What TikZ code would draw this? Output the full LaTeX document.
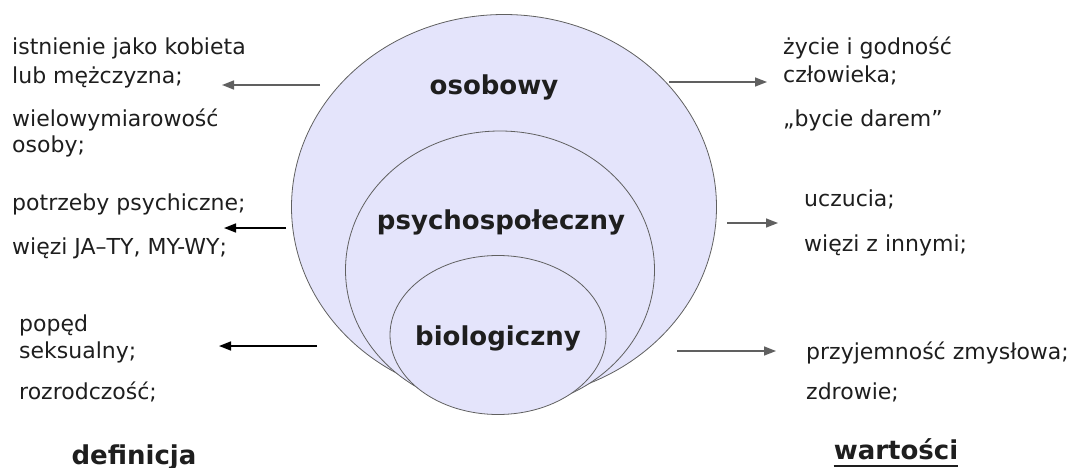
\documentclass[tikz,border=0pt]{standalone}
\usepackage{fontspec}
\setmainfont{DejaVu Sans}
\usetikzlibrary{arrows.meta,shapes.geometric}
\definecolor{fillc}{HTML}{E4E4FB}
\definecolor{linec}{HTML}{606060}
\definecolor{txt}{HTML}{1E1E1E}
\begin{document}
\begin{tikzpicture}[x=1pt,y=-1pt,
  small/.style={font=\fontsize{22}{26}\selectfont, text=txt, inner sep=0pt, anchor=base west},
  big/.style={font=\fontsize{26}{30}\selectfont\bfseries, text=txt, inner sep=0pt, anchor=base},
  layer/.style={ellipse, draw=linec, fill=fillc, line width=0.8pt, inner sep=0pt},
  garrow/.style={draw=linec, line width=1.6pt, -{Triangle[length=12pt,width=9pt]}},
  barrow/.style={draw=black, line width=1.6pt, -{Triangle[length=12pt,width=9pt]}}]
\useasboundingbox (0,0) rectangle (1070,468);
\clip (0,0) rectangle (1070,468);
% nested ellipses
\node[layer, minimum width=425pt, minimum height=385pt] (outer) at (504,207) {};
\node[layer, minimum width=309pt, minimum height=278pt] (middle) at (500,270) {};
\node[layer, minimum width=216pt, minimum height=159pt] (inner) at (498,335) {};
\node[big] (osob) at (494,95) {osobowy};
\node[big] (psych) at (501,229) {psychospołeczny};
\node[big] (bio) at (498,345) {biologiczny};
% left texts
\node[small] (l1) at (12,55) {istnienie jako kobieta};
\node[small] (l2) at (12,84) {lub mężczyzna;};
\node[small] (l3) at (12,126) {wielowymiarowość};
\node[small] (l4) at (12,152) {osoby;};
\node[small] (l5) at (12,210) {potrzeby psychiczne;};
\node[small] (l6) at (12,254) {więzi JA–TY, MY-WY;};
\node[small] (l7) at (19,331) {popęd};
\node[small] (l8) at (19,358) {seksualny;};
\node[small] (l9) at (19,399) {rozrodczość;};
\node[big] (def) at (134,464) {definicja};
% right texts
\node[small] (r1) at (783,55) {życie i godność};
\node[small] (r2) at (783,83) {człowieka;};
\node[small] (r3) at (783,127) {„bycie darem”};
\node[small] (r4) at (804,206) {uczucia;};
\node[small] (r5) at (804,251) {więzi z innymi;};
\node[small] (r6) at (806,359) {przyjemność zmysłowa;};
\node[small] (r7) at (806,399) {zdrowie;};
\node[big] (wart) at (896,459) {wartości};
\draw[txt, line width=2.4pt] ([yshift=-7pt]wart.base west) -- ([yshift=-7pt]wart.base east);
% arrow end points
\coordinate (a1s) at (320,85);  \coordinate (a1e) at (222,85);
\coordinate (a2s) at (286,228); \coordinate (a2e) at (224,228);
\coordinate (a3s) at (317,346); \coordinate (a3e) at (219,346);
\coordinate (a4s) at (669,82);  \coordinate (a4e) at (767,82);
\coordinate (a5s) at (727,223); \coordinate (a5e) at (778,223);
\coordinate (a6s) at (677,351); \coordinate (a6e) at (776,351);
\draw[garrow] (a1s) -- (a1e);
\draw[barrow] (a2s) -- (a2e);
\draw[barrow] (a3s) -- (a3e);
\draw[garrow] (a4s) -- (a4e);
\draw[garrow] (a5s) -- (a5e);
\draw[garrow] (a6s) -- (a6e);
\end{tikzpicture}
\end{document}
